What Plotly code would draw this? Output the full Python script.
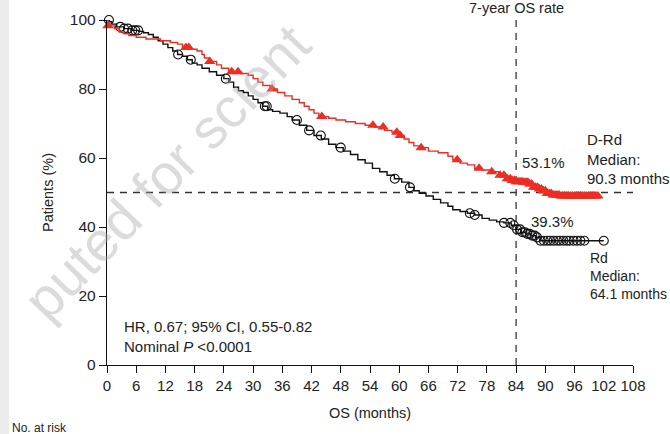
import numpy as np
import plotly.graph_objects as go

# ---------------- data ----------------
rd_t = [0, 0.5, 1, 2, 3.5, 5, 6.5, 7.5, 8.5, 9.5, 10.5, 11.5, 12.5, 13.5, 14.5, 15.5,
        16.5, 17.5, 18.5, 19.5, 21, 22.5, 24, 25, 26, 27, 28, 29, 30, 31, 32, 33, 34,
        35.5, 37, 38, 39.5, 41, 42.5, 44, 45.5, 47, 48.5, 50, 51.5, 53, 54.5, 56, 57.5,
        59, 60.5, 62, 63, 64.1, 65.5, 67, 68.5, 70, 71, 72.5, 74, 75.5, 77, 78.5, 80,
        81.5, 83, 84, 85, 86, 87, 88, 89, 102]
rd_s = [100, 99.5, 98.8, 98, 97.5, 97, 96.7, 96.3, 95.8, 95, 94, 93, 92, 91, 90, 89.5,
        88.5, 87.5, 87, 86, 85, 84, 83, 82, 80.5, 79.5, 79, 78, 77, 76, 75, 74, 73.5,
        73, 72, 71, 69.5, 68, 66.5, 65.5, 64, 63, 62, 61, 59.5, 58.5, 57, 56, 55,
        54, 53, 51.5, 50.5, 49.8, 49, 48, 47, 46, 45, 44.5, 44, 43.5, 42.5, 42, 41.5,
        41.2, 40.5, 39.3, 38.5, 38, 37.5, 37, 36, 36]
rd_cens = [0.4, 2.7, 3.5, 4.3, 5.2, 5.8, 6.4, 14.6, 17.2, 24.4, 32.4, 32.8, 39, 41.5,
           43.9, 48, 59.1, 62.2, 74.5, 75.5, 81.5, 82.8, 83.5, 84.2, 84.8, 85.3, 85.8,
           86.3, 86.8, 87.3, 87.8, 88.3, 89, 89.7, 90.4, 91, 91.7, 92.4, 93, 93.7, 94.4,
           95, 95.8, 96.5, 97.2, 98, 102]

drd_t = [0, 0.2, 1.5, 2.5, 3.5, 4.5, 6, 8, 11, 13, 14.5, 15.5, 17, 18.5, 19.5, 20,
         21, 22.5, 23.5, 25, 27.5, 29, 30, 31, 32, 33.5, 35, 36.5, 38, 39.5, 40.5, 41.5,
         42.5, 43.5, 45.5, 47, 49, 51, 53, 55, 57, 58.5, 60, 61, 62, 63, 64.5, 66, 68,
         70, 71, 72.5, 74, 75.5, 77, 79, 80.5, 82, 83, 84, 85.5, 86.5, 87.5, 88.5, 89.5,
         90.3, 91.5, 93, 101]
drd_s = [100, 98.3, 97.5, 96.5, 96, 95.5, 95, 94.5, 94, 93.5, 93, 92, 91.5, 91, 90, 89,
         88, 87, 86, 85, 84.5, 84, 83, 82, 81, 80, 79, 78, 77, 76, 75, 74,
         73, 72, 71.5, 71, 70.5, 70, 69.5, 69, 68, 67.5, 66.5, 65.5, 64.5, 63.5, 63, 62, 61.5,
         60.5, 59.5, 58.5, 58, 57, 56.5, 56, 55, 54, 53.5, 53.1, 53, 52.5, 51.5, 51, 50.5,
         49.7, 49.3, 49, 49]
drd_cens = [0.2, 16.2, 16.8, 21.1, 25.6, 26.9, 33.9, 44.1, 54.6, 56.7, 59.5, 60.2,
            64.5, 71.9, 76.4, 79, 80.7, 81.5, 82.2, 82.8, 83.2, 83.6, 84.0, 84.4, 84.8,
            85.2, 85.6, 86.0, 86.4, 86.8, 87.2, 87.6, 88.0, 88.4, 88.8, 89.2, 89.6, 90.0,
            90.4, 90.8, 91.2, 91.6, 92.0, 92.4, 92.8, 93.2, 93.6, 94.0, 94.4, 94.8, 95.2,
            95.6, 96.0, 96.4, 96.8, 97.2, 97.6, 98.0, 98.4, 98.8, 99.2, 99.6, 100.0,
            100.4, 100.8]

x_ticks = list(range(0, 109, 6))
y_ticks = [0, 20, 40, 60, 80, 100]


def step_at(times, surv, q):
    times = np.asarray(times)
    surv = np.asarray(surv)
    idx = np.searchsorted(times, np.asarray(q), side="right") - 1
    return surv[np.clip(idx, 0, len(surv) - 1)]


FONT = "Liberation Sans, Arial, sans-serif"
TXT = "#222222"
RED = "#ec2d24"

fig = go.Figure()

# reference lines
fig.add_trace(go.Scatter(x=[0, 108], y=[50, 50], mode="lines",
                         line=dict(color="#333333", width=1.3, dash="7px,6px"),
                         hoverinfo="skip", showlegend=False, cliponaxis=False))
fig.add_trace(go.Scatter(x=[84, 84], y=[0, 100.6], mode="lines",
                         line=dict(color="#444444", width=1.4, dash="7px,6px"),
                         hoverinfo="skip", showlegend=False, cliponaxis=False))

# Rd (black)
fig.add_trace(go.Scatter(x=rd_t, y=rd_s, mode="lines", line_shape="hv",
                         line=dict(color="#111111", width=1.4), showlegend=False,
                         cliponaxis=False))
fig.add_trace(go.Scatter(x=rd_cens, y=step_at(rd_t, rd_s, rd_cens), mode="markers",
                         marker=dict(symbol="circle-open", size=9, color="#111111",
                                     line=dict(width=1.1, color="#111111")),
                         showlegend=False, cliponaxis=False))
# D-Rd (red)
fig.add_trace(go.Scatter(x=drd_t, y=drd_s, mode="lines", line_shape="hv",
                         line=dict(color=RED, width=1.4), showlegend=False,
                         cliponaxis=False))
fig.add_trace(go.Scatter(x=drd_cens, y=step_at(drd_t, drd_s, drd_cens), mode="markers",
                         marker=dict(symbol="triangle-up", size=10, color=RED,
                                     line=dict(width=0)),
                         showlegend=False, cliponaxis=False))

ann = []
def add(text, x, y, xanchor="center", yanchor="middle", size=15, xref="x", yref="y", **kw):
    ann.append(dict(text=text, x=x, y=y, xref=xref, yref=yref, xanchor=xanchor,
                    yanchor=yanchor, showarrow=False,
                    font=dict(family=FONT, size=size, color=TXT), **kw))

add("53.1%", 89.6, 58.6)
add("39.3%", 91.5, 41.7)
add("D-Rd<br>Median:<br>90.3 months", 98.2, 59.7, xanchor="left", align="left")
add("Rd<br>Median:<br>64.1 months", 99.0, 25.9, xanchor="left", align="left", size=14,
    borderpad=0)
add("HR, 0.67; 95% CI, 0.55-0.82<br>Nominal <i>P</i> <0.0001", 3.1, 8.4,
    xanchor="left", align="left")
add("7-year OS rate", 84, (365 - 8) / 345, yanchor="middle", size=14.5, yref="paper")
add("No. at risk", (10 - 107) / 526, (365 - 428) / 345, xanchor="left", size=12,
    xref="paper", yref="paper")

# watermark
ann.append(dict(text="puted for scient", xref="paper", yref="paper",
                x=(166 - 107) / 526, y=(365 - 172) / 345, showarrow=False,
                textangle=-46, xanchor="center", yanchor="middle",
                font=dict(family="Liberation Sans, Arial", size=56,
                          color="rgba(170,170,170,0.42)")))

fig.update_layout(
    width=670, height=434,
    margin=dict(l=107, r=37, t=20, b=69),
    paper_bgcolor="white", plot_bgcolor="white",
    font=dict(family=FONT, size=15, color=TXT),
    annotations=ann,
    shapes=[dict(type="rect", xref="paper", yref="paper",
                 x0=(0 - 107) / 526, x1=(9 - 107) / 526, y0=-1, y1=2,
                 fillcolor="#ececec", line=dict(width=0), layer="below")],
    xaxis=dict(range=[0, 108], tickvals=x_ticks, ticktext=[str(v) for v in x_ticks],
               showgrid=False, zeroline=False, showline=True, linecolor="#111111",
               linewidth=1.4, ticks="outside", ticklen=7, tickwidth=1.4,
               tickcolor="#111111", tickfont=dict(size=15, family=FONT, color=TXT),
               title=dict(text="OS (months)", font=dict(size=14.5, family=FONT, color=TXT),
                          standoff=14)),
    yaxis=dict(range=[0, 100], tickvals=y_ticks, showgrid=False, zeroline=False,
               showline=True, linecolor="#111111", linewidth=1.4, ticks="outside",
               ticklen=7, tickwidth=1.4, tickcolor="#111111",
               tickfont=dict(size=15.5, family=FONT, color=TXT),
               title=dict(text="Patients (%)", font=dict(size=14.5, family=FONT, color=TXT),
                          standoff=12)),
)

fig.write_html("out.html")
